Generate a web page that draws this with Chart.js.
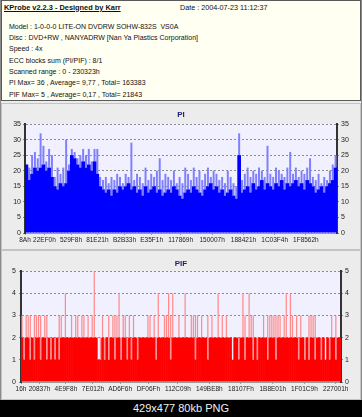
<!DOCTYPE html>
<html><head><meta charset="utf-8">
<script src="https://cdn.jsdelivr.net/npm/chart.js@4.4.1/dist/chart.umd.min.js"></script>
<style>
body{margin:0;width:362px;height:417px;background:#000;overflow:hidden;font-family:"Liberation Sans",Arial,sans-serif;position:relative}
#frame{position:absolute;left:0;top:0;width:360px;height:399px;background:#ececec;border:1px solid #8a8a8a;border-top:none}
#info{position:absolute;left:1px;top:0;width:358px;height:99px;background:#fffff2;border:1px solid #5a5a5a}
.tx{position:absolute;font-size:7px;line-height:9px;color:#111;white-space:nowrap}
.panel{position:absolute;left:1px;width:358px;border:1px solid #c4c4c4;background:#ececec}
.panel canvas{display:block}
#cap{position:absolute;left:0;top:400px;width:362px;height:17px;line-height:17px;text-align:center;color:#f0f0f0;font-size:11px}
</style>
</head><body>
<div id="frame"></div>
<div id="info"></div>
<div class="tx" style="left:4px;top:2.5px;font-size:7.4px;font-weight:bold;text-decoration:underline">KProbe v2.2.3 - Designed by Karr</div>
<div class="tx" style="left:180px;top:2.5px;font-size:7.2px">Date : 2004-07-23 11:12:37</div>
<div class="tx" style="left:9px;top:21.5px">Model : 1-0-0-0 LITE-ON DVDRW SOHW-832S&nbsp; VS0A</div>
<div class="tx" style="left:9px;top:32.8px">Disc : DVD+RW , NANYADRW [Nan Ya Plastics Corporation]</div>
<div class="tx" style="left:9px;top:44.2px">Speed : 4x</div>
<div class="tx" style="left:9px;top:55.5px">ECC blocks sum (PI/PIF) : 8/1</div>
<div class="tx" style="left:9px;top:66.8px">Scanned range : 0 - 230323h</div>
<div class="tx" style="left:9px;top:78.2px">PI Max= 36 , Average= 9,77 , Total= 163383</div>
<div class="tx" style="left:9px;top:89.5px">PIF Max= 5 , Average= 0,17 , Total= 21843</div>
<div class="panel" style="top:103px;height:145px"><canvas id="pi" width="358" height="145"></canvas></div>
<div class="panel" style="top:250px;height:148px"><canvas id="pif" width="358" height="148"></canvas></div>
<div id="cap">429x477 80kb PNG</div>
<script>
// scanned range, LBA
const scanEnd = 0x230323;

// PI: darker level and lighter peaks per sample
const piBase = [22,17,19,21,20,21,22,20,21,18, 15,14,16,15,16,20,25,24,22,21,
  23,21,22,20,23,19,15,14,13,14, 12,14,13,15,14,15,16,14,15,13,
  14,12,15,13,14,15,13,14,12,13, 14,13,15,14,12,11,13,14,13,15,
  14,13,12,14,15,16,14,15,13,14, 12,13,14,12,11,25,13,14,15,13,
  16,14,15,17,14,16,15,14,16,15, 17,14,16,15,16,17,15,16,14,17,
  16,15,13,14,15,13,15,16,17,21];
const piPeak = [22,21,25,26,24,32,28,23,27,25, 18,21,19,21,30,22,27,26,24,25,
  27,25,27,23,27,27,18,17,18,16, 18,17,19,18,16,19,18,29,17,19,
  18,16,21,17,19,18,20,24,17,19, 18,17,20,16,18,16,21,19,17,21,
  18,20,17,19,21,18,20,19,17,18, 16,20,18,16,15,32,17,19,21,18,
  20,19,21,20,18,28,19,18,21,20, 19,18,21,26,19,21,18,20,19,21,
  24,18,17,19,16,18,17,20,22,25];
const piTicks = ["8Ah","22EF0h","529F8h","81E21h","B2B33h","E35F1h","117869h","150007h","188421h","1C03F4h","1F8562h"];

// PIF
const pifBase = [2,1,2,2,1,2,1,2,2,1,2,2,1,2,1,2,1,2,1,2,
  2,2,2,2,2,2,2,2,2,2,2,2,2,2,2,2,2,1,1,
  2,1,2,1,2,2,1,2,2,1,2,2,1,2,1,2,2,1,2,
  2,2,2,2,2,2,2,1,2,2,2,2,2,2,1,2,2,2,2,2,2,2,2,2,2,2,1,2,2,2,2,2,1,2,2,2,2,2,2,2,2,2,2,2,1,2,
  2,1,2,2,1,2,2,2,1,2,1,2,2,2,2,1,2,2,2,1,2,2,2,2,2,2,2,2,2,2,1,2,2,1,2,1,2,2,1,2,2,1,2,1,2,1,2,2,1,2,2];
const pifPeak = [3,2,3,3,3,2,3,3,3,3,2,3,3,2,2,2,2,2,3,3,
  2,4,2,2,3,2,3,3,2,3,3,2,3,2,3,5,2,1,2,
  3,2,2,3,2,3,3,3,4,2,3,3,2,3,2,3,2,2,2,
  2,2,2,3,3,2,3,2,4,2,2,3,3,4,3,4,2,2,3,2,2,4,2,2,3,3,3,3,2,3,2,2,3,2,3,2,2,4,2,3,2,3,2,2,1,2,
  2,2,2,4,3,2,4,3,3,2,2,2,2,3,2,3,3,3,3,3,3,3,2,3,4,2,4,3,2,3,2,3,2,2,2,3,3,3,3,2,2,2,2,1,2,2,3,2,3,2,2];
const pifTicks = ["16h","20837h","4E9F8h","7E012h","AD6F6h","DF06Fh","112C09h","149BE8h","18107Fh","1B8E01h","1F01C9h","227001h"];

const FONT = '"Liberation Sans", Arial, sans-serif';

const plotBg = {
  id: 'plotBg',
  beforeDraw(c) {
    const a = c.chartArea, ctx = c.ctx;
    ctx.save();
    ctx.fillStyle = '#f0f0ff';
    ctx.fillRect(a.left, a.top, a.right - a.left, a.bottom - a.top);
    ctx.restore();
  }
};

function makeChart(id, base, peak, ticks, ymax, step, dark, light, title, lay) {
  // samples spread evenly over the scanned range
  const n = base.length;
  const lba = i => (i + 0.5) * scanEnd / n;
  const tickVals = ticks.map(t => parseInt(t, 16));
  const tickFont = {size: 7, family: FONT};
  return new Chart(document.getElementById(id), {
    type: 'bar',
    data: {
      datasets: [
        {data: base.map((v, i) => ({x: lba(i), y: v})), backgroundColor: dark, borderWidth: 0,
          barPercentage: 1.3, categoryPercentage: 1, order: 0},
        // lighter part only from the level up to the peak
        {data: peak.map((v, i) => ({x: lba(i), y: [base[i], v]})), backgroundColor: light, borderWidth: 0,
          barPercentage: lay.pw, categoryPercentage: 1, order: 1}
      ]
    },
    options: {
      responsive: false,
      animation: false,
      events: [],
      layout: {padding: 0},
      plugins: {
        legend: {display: false},
        tooltip: {enabled: false},
        title: {display: true, text: title, color: '#1c1c7a',
          font: {size: 8, weight: 'bold', family: FONT},
          padding: {top: lay.tt, bottom: lay.tb}}
      },
      scales: {
        x: {
          type: 'linear',
          stacked: true,
          offset: false,
          min: 0, max: scanEnd,
          grid: {drawOnChartArea: false, offset: false, tickLength: 2, color: '#9a9a9a'},
          border: {color: '#9a9a9a', width: 1},
          afterBuildTicks: s => { s.ticks = tickVals.map(v => ({value: v})); },
          ticks: {autoSkip: false, maxRotation: 0, minRotation: 0, padding: 1, color: '#222',
            font: {size: 6.5, family: FONT},
            callback: (v, i) => ticks[i]},
          afterFit: s => { s.height = lay.xh; }
        },
        y: {
          min: 0, max: ymax,
          grid: {color: '#8c8c8c', tickLength: 2},
          border: {color: '#333', width: 2, dash: [2, 2]},
          ticks: {stepSize: step, padding: lay.lp, color: '#222', font: tickFont},
          afterFit: s => { s.width = lay.lw; }
        },
        y2: {
          position: 'right',
          min: 0, max: ymax,
          grid: {drawOnChartArea: false, color: '#8c8c8c', tickLength: 2},
          border: {color: '#333', width: 2},
          ticks: {stepSize: step, padding: 2, color: '#222', font: tickFont},
          afterFit: s => { s.width = lay.rw; }
        }
      }
    },
    plugins: [plotBg]
  });
}

makeChart('pi', piBase, piPeak, piTicks, 35, 5, '#0000ff', '#8080ff', 'PI',
  {tt: 6.2, tb: 4.2, xh: 16, lw: 23, rw: 23, lp: 2, pw: 0.7});
makeChart('pif', pifBase, pifPeak, pifTicks, 5, 1, '#ff0000', '#ff8c8c', 'PIF',
  {tt: 8.2, tb: 2.2, xh: 17, lw: 19, rw: 19, lp: 3, pw: 0.6});
</script>
</body></html>
